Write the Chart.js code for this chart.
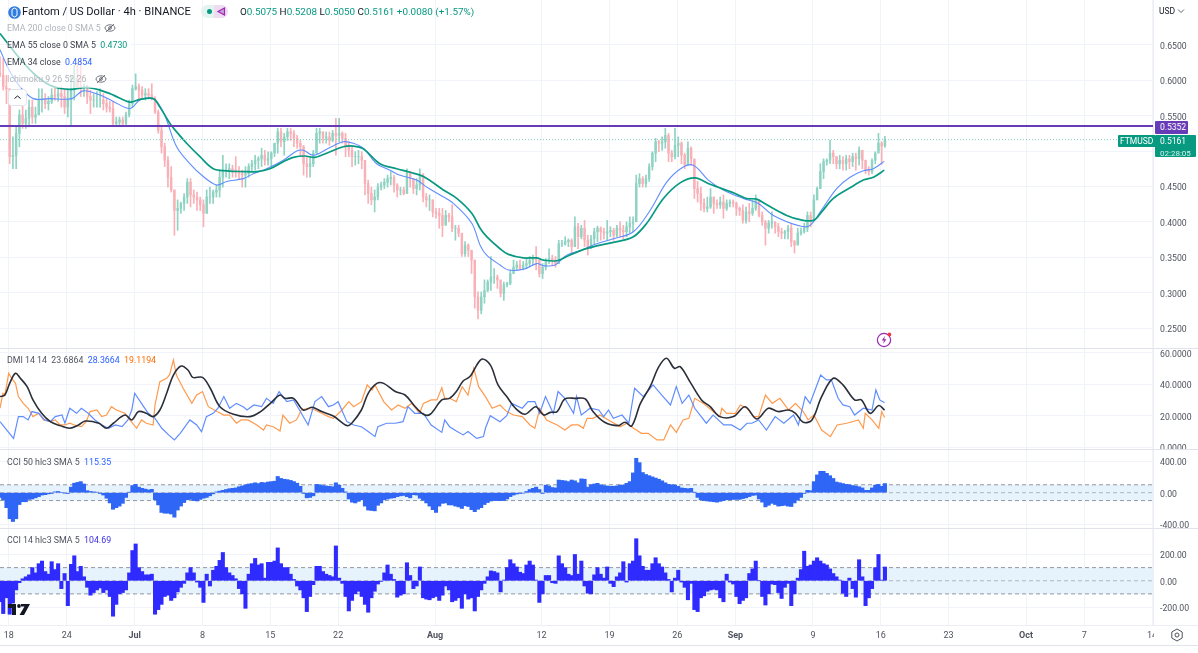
<!DOCTYPE html>
<html>
<head>
<meta charset="utf-8">
<title>Fantom / US Dollar</title>
<script src="https://cdn.jsdelivr.net/npm/chart.js@4/dist/chart.umd.min.js"></script>
<style>
    html, body { margin: 0; background: #fff; overflow: hidden; width: 1198px; height: 653px; }
    body { font-family: Roboto, sans-serif; color: #131722; }
    canvas { position: absolute; left: 0; }
    .txt { position: absolute; white-space: nowrap; font-size: 8.8px; line-height: 12px; z-index: 3; }
    .sep { position: absolute; left: 0; width: 1198px; height: 1px; background: #e0e3eb; z-index: 2; }
    .box { position: absolute; color: #fff; font-size: 8.5px; line-height: 12px; z-index: 4; white-space: nowrap; }
    .veil { background: rgba(255,255,255,.62); line-height: 17px; padding-right: 4px; }
    svg { position: absolute; z-index: 4; }
</style>
</head>
<body>
<canvas id="price_pane" width="1198" height="348" style="top:0"></canvas>
<canvas id="dmi_pane" width="1198" height="100" style="top:349px"></canvas>
<canvas id="cci50_pane" width="1198" height="78" style="top:450px"></canvas>
<canvas id="cci14_pane" width="1198" height="116" style="top:529px"></canvas>

<div class="sep" style="top:348px"></div>
<div class="sep" style="top:449px"></div>
<div class="sep" style="top:528px"></div>
<div class="sep" style="top:625px;background:#eceef4"></div>
<div class="sep" style="top:645px"></div>
<div style="position:absolute;left:1154px;top:626px;width:44px;height:19px;background:#fff;z-index:2"></div>

<svg style="left:8px;top:6px" width="13" height="13" viewBox="0 0 13 13"><circle cx="6.5" cy="6.5" r="6.3" fill="#2f7de1"/><path d="M4 3.5 6.5 2 9 3.5V9.5L6.5 11 4 9.5Z" fill="none" stroke="#fff" stroke-width="1"/></svg>
<div class="txt" style="left:22px;top:5px;font-size:11.1px;line-height:14px">Fantom / US Dollar · 4h · BINANCE</div>
<div style="position:absolute;left:201px;top:5px;width:27px;height:13px;border-radius:7px;background:#e3f3ef;z-index:3"></div>
<div style="position:absolute;left:214px;top:5px;width:14px;height:13px;border-radius:0 7px 7px 0;background:#efdcf3;z-index:3"></div>
<div style="position:absolute;left:207px;top:9px;width:5px;height:5px;border-radius:50%;background:#089981;z-index:4"></div>
<svg style="left:216px;top:6px" width="11" height="11" viewBox="0 0 11 11"><path d="M2 5.5 8.5 2V9Z" fill="#c7a3d8" stroke="#9c27b0" stroke-width="1.2"/></svg>
<div class="txt" style="left:240px;top:5px;font-size:9.9px;color:#089981;line-height:14px"><span style="color:#131722">O</span>0.5075 <span style="color:#131722">H</span>0.5208 <span style="color:#131722">L</span>0.5050 <span style="color:#131722">C</span>0.5161 +0.0080 (+1.57%)</div>

<div class="txt veil" style="left:7px;top:19.5px;color:#b2b5be;padding-right:24px">EMA 200 close 0 SMA 5</div>
<div class="txt veil" style="left:7px;top:36.5px;color:#3b3f4a">EMA 55 close 0 SMA 5 &nbsp;<span style="color:#089981">0.4730</span></div>
<div class="txt veil" style="left:7px;top:53.5px;color:#3b3f4a">EMA 34 close &nbsp;<span style="color:#2962ff">0.4854</span></div>
<div class="txt veil" style="left:7px;top:70.5px;color:#b2b5be;padding-right:24px">Ichimoku 9 26 52 26</div>
<svg style="left:104px;top:23px" width="12" height="10" viewBox="0 0 12 10"><ellipse cx="6" cy="5" rx="5" ry="3.2" fill="none" stroke="#50535e" stroke-width=".8"/><circle cx="6" cy="5" r="1.4" fill="none" stroke="#50535e" stroke-width=".8"/><path d="M2 9 10 1" stroke="#50535e" stroke-width=".8"/></svg>
<svg style="left:95px;top:74px" width="12" height="10" viewBox="0 0 12 10"><ellipse cx="6" cy="5" rx="5" ry="3.2" fill="none" stroke="#50535e" stroke-width=".8"/><circle cx="6" cy="5" r="1.4" fill="none" stroke="#50535e" stroke-width=".8"/><path d="M2 9 10 1" stroke="#50535e" stroke-width=".8"/></svg>
<svg style="left:8px;top:89px" width="19" height="17" viewBox="0 0 19 17"><rect x=".5" y=".5" width="18" height="16" rx="3" fill="#fff" stroke="#e0e3eb"/><path d="M6.5 9.5 9.5 7 12.5 9.5" fill="none" stroke="#131722" stroke-width="1"/></svg>

<div class="txt" style="left:7px;top:354px;color:#50535e">DMI 14 14 &nbsp;23.6864 &nbsp;<span style="color:#2962ff">28.3664</span> &nbsp;<span style="color:#ff6d00">19.1194</span></div>
<div class="txt" style="left:7px;top:456px;color:#50535e">CCI 50 hlc3 SMA 5 &nbsp;<span style="color:#2962ff">115.35</span></div>
<div class="txt" style="left:7px;top:534px;color:#50535e">CCI 14 hlc3 SMA 5 &nbsp;<span style="color:#3a30e0">104.69</span></div>

<svg style="left:876px;top:331px" width="17" height="17" viewBox="0 0 17 17"><circle cx="8" cy="9" r="6.6" fill="#fff" stroke="#9c27b0" stroke-width="1.2"/><path d="M9 4.8 5.8 9.6H8L7 13 10.4 8.2H8.2Z" fill="#9c27b0"/><circle cx="13.4" cy="3.4" r="1.9" fill="#f23645"/></svg>
<svg style="left:8px;top:604px" width="22" height="12" viewBox="0 0 22 12"><path d="M0 0H8V11H4V4H0Z M13 0H22L16 11H11.5L16.5 2.5H13Z" fill="#131722"/><circle cx="11" cy="2" r="1.9" fill="#131722"/></svg>
<svg style="left:1170px;top:628px" width="14" height="14" viewBox="0 0 14 14"><path d="M7 1 12.2 4V10L7 13 1.8 10V4Z" fill="none" stroke="#50535e" stroke-width="1"/><circle cx="7" cy="7" r="2" fill="none" stroke="#50535e" stroke-width="1"/></svg>

<div class="txt" style="left:1159px;top:5px;font-size:8.5px">USD</div>
<svg style="left:1177px;top:8px" width="8" height="6" viewBox="0 0 8 6"><path d="M1 1.5 4 4.5 7 1.5" fill="none" stroke="#50535e" stroke-width=".9"/></svg>

<div class="box" style="left:1155px;top:121px;width:28px;height:12.5px;padding-left:5px;background:#673ab7;border-radius:1px">0.5352</div>
<div class="box" style="left:1118px;top:135px;width:35px;height:12px;padding-left:2px;background:#089981;border-radius:1px 0 0 1px">FTMUSD</div>
<div class="box" style="left:1155px;top:135px;width:36px;height:22px;padding-left:5px;background:#089981;border-radius:1px">0.5161<br><span style="font-size:8px;line-height:9px;color:#d5f0ea">02:28:05</span></div>

<script>
// prices, one bar every 8h
const highs = [.633,.631,.607,.572,.520,.534,.558,.567,.558,.572,.572,.562,.588,.588,.581,.577,.588,.590,.588,.591,.588,.586,.605,.621,.624,.633,.595,.593,.586,.581,.584,.588,.581,.574,.570,.570,.548,.548,.548,.555,.572,.593,.609,.595,.591,.588,.588,.595,.577,.558,.534,.511,.492,.478,.445,.431,.428,.440,.461,.461,.445,.442,.435,.431,.445,.449,.445,.452,.473,.494,.482,.482,.480,.492,.478,.473,.478,.482,.487,.494,.492,.504,.501,.499,.499,.511,.532,.532,.525,.532,.532,.529,.522,.515,.508,.492,.492,.501,.532,.532,.527,.527,.527,.529,.546,.546,.527,.525,.513,.506,.499,.501,.499,.487,.459,.449,.445,.454,.456,.461,.466,.471,.466,.454,
    .449,.449,.475,.471,.461,.461,.475,.468,.440,.438,.431,.419,.419,.419,.416,.412,.424,.395,.395,.381,.372,.369,.358,.346,.301,.301,.318,.318,.351,.334,.325,.308,.315,.315,.332,.346,.344,.346,.344,.348,.351,.353,.365,.339,.341,.348,.362,.353,.351,.374,.374,.379,.376,.376,.407,.398,.395,.402,.381,.381,.391,.394,.393,.391,.402,.393,.391,.395,.400,.395,.400,.407,.407,.466,.468,.464,.466,.482,.499,.518,.515,.520,.532,.525,.501,.532,.520,.513,.497,.513,.506,.487,.457,.449,
    .433,.435,.447,.435,.431,.435,.438,.431,.431,.431,.428,.421,.424,.421,.426,.431,.438,.428,.414,.402,.402,.414,.400,.398,.391,.388,.395,.398,.374,.391,.391,.398,.414,.414,.438,.449,.482,.489,.489,.515,.501,.492,.494,.492,.494,.494,.497,.497,.506,.501,.487,.478,.489,.499,.525,.513,.5208];
const lows = [.605,.586,.567,.482,.475,.475,.506,.532,.532,.534,.539,.539,.553,.555,.560,.558,.567,.572,.570,.562,.553,.548,.537,.572,.588,.577,.577,.567,.553,.562,.562,.562,.558,.555,.555,.535,.535,.537,.535,.535,.548,.562,.586,.574,.574,.572,.574,.572,.553,.525,.497,.478,.449,.442,.381,.388,.412,.416,.426,.421,.426,.416,.416,.393,.412,.426,.426,.435,.435,.449,.463,.461,.463,.463,.461,.449,.449,.463,.471,.473,.475,.478,.480,.480,.478,.492,.497,.506,.494,.515,.515,.506,.504,.492,.466,.463,.463,.478,.497,.511,.511,.511,.508,.513,.494,.513,.511,.492,.492,.478,.480,.482,.475,.438,.426,.424,.414,.431,.445,.447,.449,.452,.442,.435,
    .438,.438,.440,.449,.440,.438,.445,.428,.421,.416,.407,.405,.391,.379,.398,.400,.386,.374,.379,.351,.351,.351,.327,.278,.263,.270,.285,.301,.303,.313,.306,.294,.289,.308,.311,.327,.332,.332,.332,.334,.336,.339,.332,.322,.320,.332,.341,.339,.336,.348,.365,.367,.365,.355,.365,.362,.376,.365,.353,.362,.369,.372,.374,.376,.374,.379,.374,.379,.379,.376,.379,.384,.386,.407,.449,.449,.449,.457,.473,.485,.499,.501,.504,.485,.485,.489,.492,.482,.475,.482,.480,.433,.428,.416,
    .414,.414,.419,.412,.419,.419,.405,.416,.421,.421,.409,.409,.398,.398,.400,.409,.416,.407,.395,.367,.384,.391,.384,.379,.376,.376,.376,.365,.356,.369,.381,.384,.386,.393,.405,.431,.447,.461,.480,.482,.482,.475,.475,.473,.473,.475,.478,.473,.480,.475,.468,.466,.468,.482,.501,.481,.5050];
const closes = [.607,.591,.588,.492,.494,.525,.551,.539,.546,.562,.548,.551,.572,.574,.567,.570,.579,.577,.581,.577,.562,.572,.586,.603,.591,.588,.588,.577,.572,.572,.572,.572,.567,.562,.560,.539,.541,.544,.539,.551,.567,.588,.591,.586,.579,.581,.579,.574,.555,.529,.506,.487,.463,.445,.416,.419,.426,.435,.456,.438,.435,.431,.424,.412,.435,.435,.442,.445,.463,.473,.473,.475,.473,.471,.468,.466,.468,.478,.482,.487,.489,.494,.487,.489,.497,.511,.527,.513,.520,.527,.525,.518,.511,.506,.482,.478,.482,.497,.525,.527,.518,.520,.515,.525,.522,.525,.518,.506,.501,.492,.492,.492,.487,.454,.440,.431,.435,.449,.452,.456,.461,.463,.452,.445,
    .445,.440,.471,.461,.447,.452,.466,.435,.431,.431,.414,.412,.409,.395,.409,.407,.391,.391,.384,.355,.367,.360,.346,.294,.275,.294,.303,.315,.322,.322,.318,.299,.311,.313,.327,.336,.339,.334,.339,.341,.346,.348,.346,.327,.336,.346,.348,.346,.341,.369,.369,.372,.374,.365,.393,.379,.391,.374,.365,.376,.386,.391,.386,.384,.386,.388,.381,.391,.388,.386,.393,.398,.400,.454,.461,.454,.461,.478,.497,.513,.511,.513,.522,.497,.492,.508,.511,.494,.480,.504,.489,.447,.440,.426,
    .419,.421,.435,.426,.424,.428,.419,.426,.428,.426,.419,.416,.402,.414,.412,.419,.431,.409,.400,.391,.398,.400,.393,.386,.384,.386,.391,.372,.367,.384,.386,.391,.409,.402,.431,.447,.471,.485,.487,.497,.492,.482,.487,.482,.489,.485,.492,.489,.501,.487,.473,.471,.487,.497,.511,.507,.5161];

const first_bar_day = -0.9;
const bar_step = 1 / 3;

const ema55_days = [-.9,.82,2.54,4.26,6.32,8.04,9.42,10.8,12.5,13.55,14.92,15.6,16.64,17.33,18.36,19.74,21.12,22.5,24.2,25.6,26.96,28.34,29.37,30.58,31.6,33,34.53,35.56,36.6,38.32,40.04,41.42,42.8,44.86,46.24,47.79,48.65,49.33,50.71,51.57,53.12,54.49,55.18,56.56,57.59,59.14,60.69,62.41,64.47,65.85,67.57,69.29,70.83,72.38,74.79,76.17,77.2,78.23,80.3,81.67,83.05,83.9,85.11,86.83,88.2,89.24,90.37];
const ema55_values = [.666,.636,.610,.593,.587,.590,.586,.579,.569,.573,.574,.562,.539,.527,.511,.492,.475,.472,.471,.471,.475,.485,.491,.493,.491,.498,.506,.507,.503,.482,.475,.470,.464,.445,.433,.412,.391,.379,.362,.354,.349,.349,.346,.345,.351,.360,.366,.371,.379,.398,.433,.455,.462,.453,.441,.433,.432,.424,.409,.403,.402,.414,.433,.448,.459,.463,.473];
const ema34_days = [-.9,.13,1.16,2.54,4.26,6.5,7.7,9.42,10.8,12.5,13.55,14.92,15.96,17.33,18.71,20.08,21.46,22.5,24.21,25.24,26.62,28.34,29.72,30.4,31.44,33,34.53,35.56,36.6,37.97,39.35,40.31,42.11,43.14,44.52,45.89,47.79,48.65,49.33,50.71,51.57,53.12,54.49,55.18,56.39,57.59,59.14,60.69,62.41,64.47,66.19,67.91,69.46,70.66,72.21,73.76,75.82,77.37,78.92,81.67,82.7,83.9,85.45,86.83,88.2,89.24,90.37];
const ema34_values = [.643,.612,.591,.574,.574,.574,.585,.579,.570,.560,.572,.574,.555,.506,.482,.464,.452,.457,.461,.468,.475,.487,.500,.501,.494,.504,.513,.511,.504,.482,.473,.466,.459,.449,.438,.426,.398,.367,.353,.339,.332,.333,.341,.338,.339,.353,.360,.369,.376,.386,.416,.456,.476,.480,.459,.445,.433,.426,.409,.394,.395,.417,.447,.463,.472,.475,.4854];

const level_price = 0.5352;
const last_price = 0.5161;

const minus_di_days = [-.9,-.6,-.4,0,.3,.7,1,1.5,2,2.5,3.1,3.6,4.3,4.8,5.3,5.8,6.3,6.8,7.5,8,8.4,9.1,9.6,10.1,10.6,11.1,12,12.5,13.2,13.7,14.2,14.9,15.1,15.6,16.3,16.6,17,17.3,18,18.9,19.4,20,20.6,21.5,22.2,22.8,23.5,24,24.7,25.6,26.3,26.6,27.3,28,28.3,29,29.7,30.2,30.9,31.6,32.3,33,33.5,34.4,35.1,35.6,36.4,37,37.5,37.8,38.7,39.5,40.2,40.9,41.6,42.4,42.8,43.6,44.2,44.7,45,45.5,46.2,46.8,47.4,48,48.5,49.2,49.9,50.7,51.4,52.1,53,53.8,54.3,54.8,55.5,56.6,57.4,58.1,58.8,59.3,59.7,60.3,61,61.9,63.1,63.8,64.5,65.3,66,66.9,67.6,68.3,68.9,69.6,70.2,70.8,71.7,72.7,73.4,73.6,74.1,75,75.5,76.2,76.9,77.4,78.1,78.8,79.6,80.5,81.2,82,82.5,83.1,83.9,84.8,85.5,86.5,87.7,88.2,88.4,89.1,89.8,90.1,90.4];
const minus_di = [24.9,34.4,33.3,47.1,43.9,40.7,32.3,28,24.9,19.6,21.7,17.5,16.4,17.5,14.3,14.3,15.4,14.3,13.2,16.4,22.8,23.8,19.6,20.6,25.9,23.8,21.7,17.5,12.2,17.5,15.4,14.3,27,41.8,43.9,46,55.6,46,37.6,28,33.3,35.5,25.9,22.8,20.6,20.6,15.4,17.5,17.5,14.3,11.1,14.3,13.2,10.5,20.6,15.4,17.5,23.8,24.9,23.8,21.7,19.6,18.5,23.8,29.1,25.9,29.1,39.7,36.5,39.7,29.1,23.8,27,24.9,28,21.7,28,30.2,30.2,38,31.2,31.2,29.1,38.6,33.3,50.3,38.6,32.3,24.9,27,22.8,20.6,19.6,14.3,12.2,24.9,17.5,14.3,11.1,14.3,14.3,12.2,18.5,18.5,20.6,17.5,13.2,15.4,12.2,9,9,4.8,4.8,14.3,9.6,17.5,18.5,31.2,28,22.8,19.6,24.9,21.7,21.7,27,24.9,19.6,19.6,33.3,28,31.2,23.8,28,22.8,17.5,20.6,11.1,6.9,14.3,15.4,17.5,12.2,21.7,17.5,12.2,22.8,19.1];
const plus_di_days = [-.9,-.2,.5,1,1.5,2,2.4,3.1,3.7,4.3,4.8,5.5,5.8,6.3,7,7.5,8.2,8.9,9.6,10.3,11,11.7,12.3,12.7,13,13.7,14.4,15.1,15.8,16.5,17.1,17.7,18.7,19.4,19.9,20.4,21.1,21.6,22.2,22.8,23.5,24.2,24.6,25.3,26.1,26.6,27.3,27.9,28.7,29.4,30.1,30.9,31.6,32.3,33,33.5,34,34.9,35.6,36.4,37.1,37.8,38.1,39,39.9,40.7,41.2,41.9,42.8,43.6,44.7,45,45.5,46.2,46.9,47.4,48.3,49,49.2,49.7,50.7,51.4,51.9,53,53.6,54.3,54.8,55.4,56.2,56.7,57.4,58.3,58.6,59.1,60,60.9,61.4,61.9,62.4,63.3,64,64.6,65.5,66.5,67.4,68.3,68.9,69.5,70.2,70.8,72,72.7,73.8,74.6,75.5,76.2,76.7,77.4,78.2,79.1,80,81,81.5,82.2,82.7,83.8,84.4,84.9,85.6,86.1,86.8,87.3,88.2,89.1,89.5,89.9,90.4];
const plus_di = [16.4,11.1,5.8,19.6,19.6,17.5,22.8,21.7,17.5,16.4,19.6,20.6,15.4,24.9,21.7,24.9,21.7,17.5,14.3,12.2,14.3,13.2,17.5,23.8,34.4,28,21.7,18.5,12.2,8,4.8,9,17.5,14.3,10.1,19.6,21.7,24.9,32.3,24.9,28,25.9,23.8,27,25.9,31.2,28,35.5,29.1,30.2,22.8,14.3,29.1,32.3,25.9,27,29.1,16.4,14.3,13.2,10.1,6.9,13.2,15.4,15.4,16.4,25.9,21.7,21.7,14.3,9.6,17.5,13.2,10.5,8,10.1,5.8,6.9,12.2,20.2,16.4,20.2,28,24.9,29.1,29.1,21.7,32.3,21.7,35.5,31.2,21.7,32.3,20.6,24.9,23.8,19.6,23.8,18.5,20.6,15.4,37.6,32.3,39.7,33.3,27,38.6,28,33.3,24.9,15.4,20.6,14.3,14.3,11.1,15.4,15.4,17.5,11.1,19.6,15.4,20.6,14.3,32.3,28,46,42.9,42.9,31.2,27,25.9,20.6,24.9,23.8,36.5,30.2,28.4];
const adx_days = [-.9,-.4,.1,.7,1.2,1.9,2.5,3.4,4.3,5.3,6.3,7.2,7.9,9.3,10.1,10.8,12,12.7,13.4,14.2,14.9,15.6,16.3,17,17.8,18.5,19,20,20.8,21.8,23.2,24.9,26,27,28,28.5,29.4,30.4,31.3,32.3,33.5,34.9,35.4,36.4,37.1,38,38.7,39.9,40.9,41.8,42.8,43.5,44.7,45.5,46.2,46.9,47.6,48.8,49.7,50.5,51.4,52.3,53.3,54.4,55.2,55.9,56.6,57.4,58.5,59.5,60.3,61.5,62.9,63.6,64.3,65.2,66.2,67.1,67.9,68.7,69.3,70.3,71.5,72.4,73.4,74.8,76,77.2,78.4,79.4,80.5,81.2,82,82.9,83.9,85.1,86.1,87.3,88,88.9,89.8,90.4];
const adx = [32.3,33.3,40.7,47.1,43.9,38.6,30.2,21.7,16.4,13.9,12.2,14.3,16.8,15.4,12.2,15.4,20.6,17.5,22.8,21.7,19.6,23.8,34.4,46,51.7,49.2,44.5,44.5,37.6,25.9,21.1,19.6,22.8,28,33.3,31.2,31.2,23.8,25.5,22.8,20,13.9,15.4,23.8,34.4,40.7,40.7,35.5,33.3,27,21.1,21.1,30.2,31.2,35.5,42.2,45,56,52.4,39.7,32.3,24.9,21.1,25.9,20.6,22.3,22.8,30.8,31.2,30.8,22.8,16,13.9,16,13.7,28,38.6,51.3,56.6,50.3,51.3,41.8,30.2,25.9,19.6,19.6,25.9,18.1,24.9,22.8,23.8,21.7,16,17.5,32.3,43.9,39.7,30.2,30.2,21.7,26.6,23.7];

const cci50 = [-60,-90,-190,-330,-365,-330,-150,-115,-115,-85,-80,-65,-50,-30,-25,-15,-10,10,15,0,-5,-10,70,120,130,140,110,25,15,10,5,-10,-30,-70,-130,-210,-190,-170,-135,-60,5,90,105,70,55,45,35,42,-90,-155,-250,-260,-260,-270,-310,-220,-170,-125,-90,-85,-100,-105,-85,-70,-60,-40,-15,10,20,30,40,50,55,60,75,85,100,110,115,125,115,130,125,135,140,145,205,180,170,165,155,140,120,80,-10,-65,-60,-40,105,100,90,85,80,75,125,95,55,10,-80,-120,-130,-110,-90,-170,-220,-225,-230,-160,-130,-90,-80,-70,-65,-50,-40,-35,-50,-65,-25,-30,-70,-95,-130,-170,-215,-250,-170,-135,-130,
    -155,-155,-170,-180,-200,-165,-175,-215,-240,-210,-190,-150,-125,-105,-100,-100,-100,-100,-80,-50,-30,-17,-10,-5,15,40,55,70,40,-10,95,85,65,60,160,155,150,140,160,150,125,175,170,70,100,110,118,100,90,85,80,80,85,97,95,118,140,250,435,380,255,230,215,200,185,170,150,125,105,100,97,80,60,55,50,55,5,-60,-90,-100,-105,-110,-115,-120,-110,-100,-90,-90,-85,-85,-85,-75,-65,-50,-35,-30,-80,-120,-180,-160,-135,-150,-170,-165,-160,-170,-175,-130,-95,-60,-10,30,25,140,225,270,270,245,215,180,135,125,115,105,100,90,85,75,60,30,30,60,95,105,80,115.35];
const cci14 = [-160,-250,-130,-255,-170,-70,-15,15,30,45,100,60,130,150,70,50,145,85,130,-60,55,-190,125,190,70,110,30,-50,-110,-90,-70,-55,-90,-70,-120,-270,-180,-100,-90,-70,60,230,280,100,70,45,45,50,-255,-220,-180,-120,-110,-150,-130,-85,-50,-20,60,100,60,-10,-50,-165,50,-40,80,110,155,215,100,60,40,15,-60,-100,-210,50,130,170,120,130,20,140,140,150,250,130,100,100,50,10,-40,-70,-130,-235,-120,-30,110,110,70,50,40,30,265,20,-20,-120,-230,-150,-100,-80,-120,-180,-240,-130,-80,-25,-5,60,120,50,10,-125,-110,-100,137,40,-60,-40,105,-130,-140,-145,-130,-120,-150,-110,-40,-70,
    -160,-150,-130,-210,-100,-140,-130,-230,-120,-70,-20,30,75,70,60,-85,5,100,160,130,105,65,55,120,150,120,5,-165,-100,40,40,-15,-20,190,130,100,50,40,200,50,150,-40,-95,-100,45,100,50,20,105,-20,-45,30,60,145,-10,130,150,320,190,110,80,80,130,175,130,105,60,10,-85,20,80,-10,-50,-145,-20,-220,-235,-130,-115,-80,-70,-65,-70,-130,-160,50,-10,-25,-120,-175,-150,-130,55,90,150,0,-120,-185,-100,-25,-30,-90,-135,-50,-20,-190,-100,20,85,225,110,120,150,175,150,130,120,90,55,30,5,-95,-120,20,-60,-125,160,30,-190,-130,-60,100,200,5,104.69];
const cci_band_upper = 100;
const cci_band_lower = -100;

// days counted from 18 June
const tick_days = [0,6,13,20,27,34,44,55,62,69,75,83,90,97,105,111,118];
const tick_names = ['18','24','Jul','8','15','22','Aug','12','19','26','Sep','9','16','23','Oct','7','14'];
const month_names = ['Jul','Aug','Sep','Oct'];

const price_ticks = [0.25,0.30,0.35,0.40,0.45,0.50,0.55,0.60,0.65];
const dmi_ticks = [0,20,40,60];
const cci50_ticks = [-400,0,400];
const cci14_ticks = [-200,0,200];

const x_min = -0.9;
const x_max = 118.1;

const grid_color = '#f0f3fa';
const up_color = '#8fd3c3';
const down_color = '#f9b0b7';

function pairs(days, values) {
    return values.map((v, i) => ({x: days[i], y: v}));
}

function line_set(days, values, color, width, order, tension = 0) {
    return {
        type: 'line',
        data: pairs(days, values),
        borderColor: color,
        borderWidth: width,
        pointRadius: 0,
        tension: tension,
        order: order,
    };
}

function flat_line(value, color, width, dash, order) {
    let set = line_set([x_min, x_max], [value, value], color, width, order);
    set.borderDash = dash;
    return set;
}

function cci_sets(values, color) {
    let days = values.map((_, i) => first_bar_day + i * bar_step);
    let upper = flat_line(cci_band_upper, '#9598a1', 1, [4, 3], 5);
    upper.fill = {target: {value: cci_band_lower}};
    upper.backgroundColor = '#e6f2fc';
    return [
        upper,
        flat_line(0, '#b2b5be', 1, [4, 3], 4),
        flat_line(cci_band_lower, '#9598a1', 1, [4, 3], 4),
        {
            type: 'bar',
            data: pairs(days, values),
            backgroundColor: color,
            barThickness: 3.4,
            grouped: false,
            order: 1,
        },
    ];
}

function tick_font(ctx) {
    let name = ctx.tick ? tick_names[tick_days.indexOf(ctx.tick.value)] : '';
    return {family: 'Roboto', size: 9, weight: month_names.includes(name) ? 'bold' : 'normal'};
}

function make_pane(canvas_id, datasets, y_min, y_max, y_ticks, digits, axis_height) {
    return new Chart(document.getElementById(canvas_id), {
        type: 'bar',
        data: {datasets: datasets},
        options: {
            responsive: false,
            animation: false,
            layout: {padding: 0},
            plugins: {legend: {display: false}, tooltip: {enabled: false}},
            scales: {
                x: {
                    type: 'linear',
                    min: x_min,
                    max: x_max,
                    offset: false,
                    grid: {color: grid_color, drawTicks: false, offset: false},
                    border: {display: false},
                    afterBuildTicks: scale => {
                        scale.ticks = tick_days.map(v => ({value: v}));
                    },
                    afterFit: scale => {
                        scale.height = axis_height;
                        scale.paddingLeft = 0;
                        scale.paddingRight = 0;
                    },
                    ticks: {
                        display: axis_height > 0,
                        autoSkip: false,
                        maxRotation: 0,
                        padding: 5,
                        color: '#50535e',
                        font: tick_font,
                        callback: v => tick_names[tick_days.indexOf(v)],
                    },
                },
                y: {
                    position: 'right',
                    min: y_min,
                    max: y_max,
                    grid: {color: grid_color, drawTicks: false},
                    border: {color: '#eceef4'},
                    afterBuildTicks: scale => {
                        scale.ticks = y_ticks.map(v => ({value: v}));
                    },
                    afterFit: scale => {
                        scale.width = 45;
                        scale.paddingTop = 0;
                        scale.paddingBottom = 0;
                    },
                    ticks: {
                        autoSkip: false,
                        padding: 7,
                        color: '#50535e',
                        // empty first line with a tight line height nudges the label down to its grid line
                        font: {family: 'Roboto', size: 8.7, lineHeight: 0.4},
                        callback: v => ['', v.toFixed(digits)],
                    },
                },
            },
        },
    });
}

let bar_days = closes.map((_, i) => first_bar_day + i * bar_step);
let opens = closes.map((c, i) => i == 0 ? 0.610 : closes[i - 1]);
opens[opens.length - 1] = 0.5075;
let bar_colors = closes.map((c, i) => c >= opens[i] ? up_color : down_color);

make_pane('price_pane', [
    flat_line(level_price, '#673ab7', 2, [], 1),
    flat_line(last_price, '#7fcdbb', 1, [1, 2], 2),
    line_set(ema55_days, ema55_values, '#089981', 1.7, 3, 0.35),
    line_set(ema34_days, ema34_values, '#5f8dff', 1.1, 4, 0.35),
    {
        type: 'bar',
        data: bar_days.map((d, i) => ({x: d, y: [opens[i], closes[i]]})),
        backgroundColor: bar_colors,
        barThickness: 1.8,
        grouped: false,
        order: 5,
    },
    {
        type: 'bar',
        data: bar_days.map((d, i) => ({x: d, y: [lows[i], highs[i]]})),
        backgroundColor: bar_colors,
        barThickness: 1,
        grouped: false,
        order: 6,
    },
], 0.2218, 0.7133, price_ticks, 4, 0);

make_pane('dmi_pane', [
    line_set(adx_days, adx, '#2a2e39', 1.6, 1, 0.35),
    line_set(plus_di_days, plus_di, '#5f8dff', 1.2, 2),
    line_set(minus_di_days, minus_di, '#ff9a4d', 1.2, 3),
], -0.95, 62.5, dmi_ticks, 4, 0);

make_pane('cci50_pane', cci_sets(cci50, '#2f66f5'), -447, 540, cci50_ticks, 2, 0);
make_pane('cci14_pane', cci_sets(cci14, '#2f2bff'), -337, 394, cci14_ticks, 2, 20);
</script>
</body>
</html>
